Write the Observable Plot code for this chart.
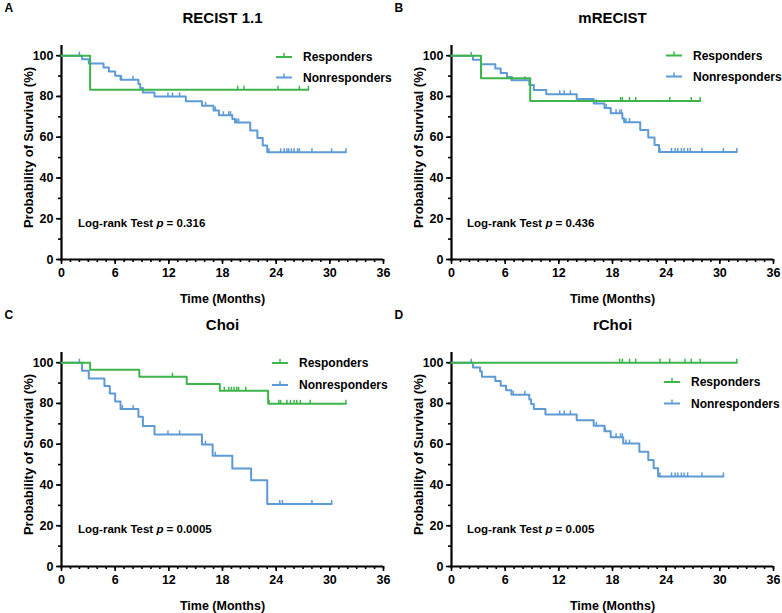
<!DOCTYPE html>
<html><head><meta charset="utf-8">
<script src="https://cdn.jsdelivr.net/npm/d3@7"></script>
<script src="https://cdn.jsdelivr.net/npm/@observablehq/plot@0.6"></script>
<style>
body{margin:0;background:#fff;font-family:"Liberation Sans",Arial,sans-serif}
#wrap{position:relative;width:782px;height:613px;overflow:hidden}
.panel{position:absolute;width:391px;height:306px}
.panel svg{overflow:visible}
</style></head><body><div id="wrap"></div>
<script>
// ---- labels ----
const panelLetters = ["A", "B", "C", "D"];
const panelTitles = ["RECIST 1.1", "mRECIST", "Choi", "rChoi"];
const pValues = ["0.316", "0.436", "0.0005", "0.005"];
const seriesNames = ["Responders", "Nonresponders"];
const xTicks = [0, 6, 12, 18, 24, 30, 36];
const xMinor = [0,1,2,3,4,5,6,7,8,9,10,11,12,13,14,15,16,17,18,19,20,21,22,23,24,25,26,27,28,29,30,31,32,33,34,35,36];
const yTicks = [0, 20, 40, 60, 80, 100];
const yMinor = [0, 10, 20, 30, 40, 50, 60, 70, 80, 90, 100];

// ---- A: RECIST 1.1 ----
const recistRespT = [0, 3.2, 27.6];
const recistRespS = [100, 83.3, 83.3];
const recistRespCens = [19.7, 20.4, 24.2, 26.6, 27.6];
const recistNonT = [0, 2.3, 3.05, 4.7, 5.3, 6.0, 6.6, 8.6, 8.8, 9.1, 10.4, 13.9, 15.7, 17.0, 17.6, 19.1, 19.4, 21.1, 21.9, 22.5, 23.0, 31.8];
const recistNonS = [100, 98.2, 96.2, 94.2, 92.2, 90.2, 88.2, 86.1, 84.1, 82.0, 80.0, 77.7, 75.4, 73.1, 70.8, 68.9, 67.2, 63.3, 59.6, 55.9, 52.6, 52.6];
const recistNonCens = [2.0, 6.7, 8.0, 11.9, 12.4, 13.2, 16.1, 17.2, 18.1, 18.7, 18.9, 19.6, 19.8, 23.2, 24.5, 24.9, 25.2, 25.4, 25.7, 26.0, 26.4, 26.6, 28.0, 30.2, 31.8];

// ---- B: mRECIST ----
const mrecistRespT = [0, 3.3, 8.8, 27.8];
const mrecistRespS = [100, 88.9, 77.8, 77.8];
const mrecistRespCens = [18.9, 19.1, 19.9, 20.6, 24.4, 26.8, 27.8];
const mrecistNonT = [0, 2.4, 3.3, 4.9, 5.5, 6.2, 6.7, 8.7, 9.2, 10.6, 14.0, 15.9, 17.1, 17.8, 19.1, 19.3, 21.1, 22.0, 22.7, 23.2, 31.9];
const mrecistNonS = [100, 98.0, 95.8, 93.7, 91.5, 89.6, 87.9, 85.6, 83.2, 81.1, 78.8, 76.6, 74.3, 71.7, 69.2, 67.4, 63.6, 59.8, 56.2, 52.8, 52.8];
const mrecistNonCens = [2.2, 6.8, 8.2, 12.1, 12.6, 13.3, 16.2, 17.3, 18.4, 18.8, 19.0, 19.5, 19.9, 23.3, 24.6, 25.0, 25.3, 25.7, 26.0, 26.4, 26.7, 28.0, 30.4, 31.9];

// ---- C: Choi ----
const choiRespT = [0, 3.2, 8.7, 14.0, 17.7, 23.1, 31.8];
const choiRespS = [100, 96.5, 93.1, 89.6, 86.2, 79.8, 79.8];
const choiRespCens = [12.4, 18.2, 18.7, 19.0, 19.3, 19.6, 19.8, 20.6, 23.2, 24.3, 24.5, 25.2, 25.6, 26.0, 26.3, 26.7, 27.8, 31.8];
const choiNonT = [0, 2.3, 3.05, 4.8, 5.4, 6.0, 6.6, 8.6, 9.1, 10.4, 15.7, 16.9, 19.1, 21.2, 23.0, 30.2];
const choiNonS = [100, 96.1, 92.3, 88.6, 84.9, 81.0, 77.3, 73.5, 68.9, 64.8, 59.8, 54.4, 48.1, 42.3, 30.7, 30.7];
const choiNonCens = [2.0, 6.8, 8.0, 11.9, 13.2, 16.1, 17.2, 24.4, 24.7, 28.0, 30.2];

// ---- D: rChoi ----
const rchoiRespT = [0, 31.9];
const rchoiRespS = [100, 100];
const rchoiRespCens = [18.8, 19.1, 19.9, 20.6, 23.3, 24.4, 26.1, 26.8, 27.8, 31.9];
const rchoiNonT = [0, 2.4, 3.2, 3.4, 4.9, 5.5, 6.1, 6.7, 8.7, 8.9, 9.2, 10.5, 14.0, 15.9, 17.1, 17.8, 19.2, 21.0, 22.0, 22.6, 23.1, 30.4];
const rchoiNonS = [100, 97.7, 95.7, 93.1, 91.0, 88.7, 86.5, 84.3, 82.0, 79.7, 77.3, 74.6, 71.7, 69.0, 66.3, 63.4, 60.3, 56.3, 52.3, 48.2, 44.2, 44.2];
const rchoiNonCens = [2.2, 6.9, 8.2, 12.1, 12.6, 13.3, 16.2, 17.2, 18.4, 18.9, 19.1, 19.5, 19.9, 23.3, 24.6, 25.0, 25.3, 25.7, 26.0, 26.4, 28.0, 30.4];

const GREEN = "#3db54a", BLUE = "#5d9ad6";
const FONT = "'Liberation Sans', Arial, sans-serif";

function km(t, s, cens) {
  const line = t.map((d, i) => ({t: d, s: s[i]}));
  const ticks = cens.map(c => {
    let lv = s[0];
    for (let i = 0; i < t.length; i++) if (t[i] <= c) lv = s[i];
    return {t: c, s: lv};
  });
  return {line, ticks};
}
const tickUp = {draw(ctx, size) { const h = Math.sqrt(size / Math.PI); ctx.moveTo(0, 0); ctx.lineTo(0, -h); }};

const panels = [
  {resp: km(recistRespT, recistRespS, recistRespCens), non: km(recistNonT, recistNonS, recistNonCens), left: 0, top: 0, leg: [276, 57, 20.5], lr: [78, 223]},
  {resp: km(mrecistRespT, mrecistRespS, mrecistRespCens), non: km(mrecistNonT, mrecistNonS, mrecistNonCens), left: 390, top: 0, leg: [276, 55.5, 21], lr: [77, 223]},
  {resp: km(choiRespT, choiRespS, choiRespCens), non: km(choiNonT, choiNonS, choiNonCens), left: 0, top: 307, leg: [272, 56, 22], lr: [78, 222]},
  {resp: km(rchoiRespT, rchoiRespS, rchoiRespCens), non: km(rchoiNonT, rchoiNonS, rchoiNonCens), left: 390, top: 307, leg: [274, 75, 21.5], lr: [77, 222]}
];

const wrap = document.getElementById("wrap");
panels.forEach((p, i) => {
  const div = document.createElement("div");
  div.className = "panel";
  div.style.left = p.left + "px";
  div.style.top = p.top + "px";
  const svg = Plot.plot({
    width: 391, height: 306,
    marginLeft: 61, marginRight: 8, marginTop: 45, marginBottom: 47,
    x: {domain: [0, 36], label: null},
    y: {domain: [0, 105], label: null},
    style: {fontFamily: FONT, background: "transparent", color: "#000"},
    marks: [
      Plot.axisX(xMinor, {tickSize: 3, strokeWidth: 1.6, tickFormat: () => "", label: null}),
      Plot.axisX(xTicks, {tickSize: 5, strokeWidth: 1.6, tickPadding: 4, fontSize: 12.5, fontWeight: "bold", label: null}),
      Plot.axisY(yMinor, {tickSize: 3, strokeWidth: 1.6, tickFormat: () => "", label: null}),
      Plot.axisY(yTicks, {tickSize: 5, strokeWidth: 1.6, tickPadding: 3, fontSize: 12.5, fontWeight: "bold", label: null}),
      Plot.ruleX([0], {stroke: "#000", strokeWidth: 2.2}),
      Plot.ruleY([0], {stroke: "#000", strokeWidth: 2.2}),
      Plot.line(p.non.line, {x: "t", y: "s", curve: "step-after", stroke: BLUE, strokeWidth: 2}),
      Plot.dot(p.non.ticks, {x: "t", y: "s", symbol: tickUp, r: 4, stroke: BLUE, strokeWidth: 1.5, fill: "none"}),
      Plot.line(p.resp.line, {x: "t", y: "s", curve: "step-after", stroke: GREEN, strokeWidth: 2}),
      Plot.dot(p.resp.ticks, {x: "t", y: "s", symbol: tickUp, r: 4, stroke: GREEN, strokeWidth: 1.5, fill: "none"}),
      Plot.text([panelTitles[i]], {frameAnchor: "top", textAnchor: "middle", lineAnchor: "middle", dy: -27, fontSize: 15, fontWeight: "bold", fill: "#000"}),
      Plot.text([panelLetters[i]], {frameAnchor: "top-left", textAnchor: "start", lineAnchor: "middle", dx: -57, dy: -37, fontSize: 12, fontWeight: "bold", fill: "#000"}),
      Plot.text(["Time (Months)"], {frameAnchor: "bottom", textAnchor: "middle", lineAnchor: "middle", dy: 39, fontSize: 12.5, fontWeight: "bold", fill: "#000"}),
      Plot.text(["Probability of Survival (%)"], {frameAnchor: "left", textAnchor: "middle", lineAnchor: "middle", rotate: -90, dx: -33, dy: -5, fontSize: 13, fontWeight: "bold", fill: "#000"})
    ]
  });
  // legend & annotation
  const s = d3.select(svg);
  const [lx, ly, lg] = p.leg;
  [GREEN, BLUE].forEach((c, k) => {
    const g = s.append("g").attr("transform", `translate(${lx},${ly + k * lg})`);
    g.append("line").attr("x1", 0).attr("x2", 16).attr("y1", 0).attr("y2", 0).attr("stroke", c).attr("stroke-width", 2);
    g.append("line").attr("x1", 8).attr("x2", 8).attr("y1", 0).attr("y2", -4).attr("stroke", c).attr("stroke-width", 1.5);
    g.append("text").attr("x", 27).attr("y", 0).attr("dy", "0.35em").attr("text-anchor", "start").attr("font-size", 12).attr("font-weight", "bold")
      .attr("font-family", FONT).attr("fill", "#000").text(seriesNames[k]);
  });
  const t = s.append("text").attr("x", p.lr[0]).attr("y", p.lr[1]).attr("dy", "0.35em").attr("text-anchor", "start")
    .attr("font-size", 11.5).attr("font-weight", "bold").attr("font-family", FONT).attr("fill", "#000");
  t.append("tspan").text("Log-rank Test ");
  t.append("tspan").attr("font-style", "italic").text("p");
  t.append("tspan").text(" = " + pValues[i]);
  div.appendChild(svg);
  wrap.appendChild(div);
});
</script></body></html>
